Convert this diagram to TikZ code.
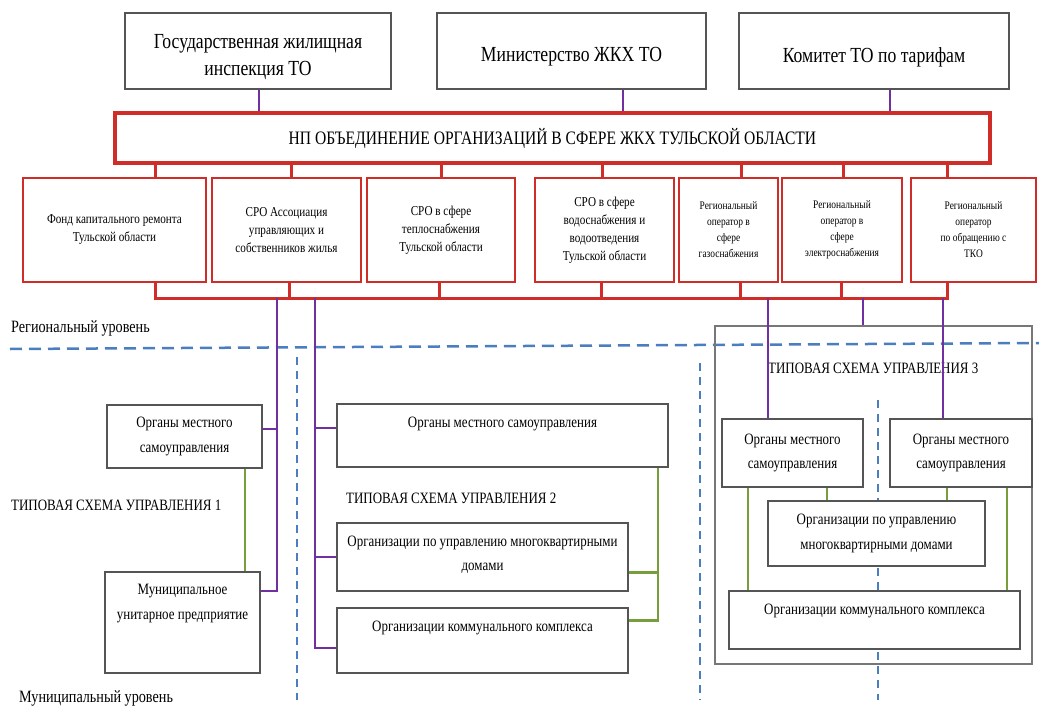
\documentclass[tikz,border=0pt]{standalone}
\usepackage{fontspec}
\setmainfont{Liberation Serif}[FakeStretch=0.82]

\definecolor{boxred}{RGB}{208,44,40}
\definecolor{linkpurple}{RGB}{112,48,160}
\definecolor{linkgreen}{RGB}{119,158,58}
\definecolor{dashblue}{RGB}{74,126,190}
\definecolor{boxgray}{RGB}{85,85,85}

\begin{document}
\begin{tikzpicture}[x=1pt,y=-1pt]
		\tikzstyle{govbox}=[draw=boxgray,line width=1.3pt,fill=white,inner sep=0pt,minimum height=76pt]
		\tikzstyle{govtxt}=[align=center,inner sep=0pt,yshift=-6pt,font=\fontsize{21.5}{27}\selectfont]
		\tikzstyle{govtext}=[label={[govtxt]center:{#1}}]
		\tikzstyle{npbox}=[draw=boxred,line width=4pt,fill=white,inner sep=0pt,font=\fontsize{19}{22}\selectfont]
		\tikzstyle{rbox}=[draw=boxred,line width=2.6pt,fill=white,align=center,inner sep=0pt,minimum height=104pt,font=\fontsize{13.6}{18}\selectfont]
		\tikzstyle{rsmall}=[font=\fontsize{11.5}{16}\selectfont]
		\tikzstyle{lbox}=[draw=boxgray,line width=1.3pt,fill=white,align=center,inner sep=0pt,font=\fontsize{15.8}{24.5}\selectfont]
		\tikzstyle{toptxt}=[anchor=north,align=center,inner sep=0pt,yshift=-13pt,font=\fontsize{15.8}{24.5}\selectfont]
		\tikzstyle{toptext}=[label={[toptxt]north:{#1}}]
		\tikzstyle{lvl}=[anchor=west,inner sep=0pt,font=\fontsize{17.3}{20}\selectfont]
		\tikzstyle{schema}=[anchor=west,inner sep=0pt,font=\fontsize{15.8}{19}\selectfont]
		\tikzstyle{rlink}=[draw=boxred,line width=3pt]
		\tikzstyle{plink}=[draw=linkpurple,line width=2pt]
		\tikzstyle{glink}=[draw=linkgreen,line width=2.5pt]
		\tikzstyle{hdash}=[draw=dashblue,line width=2.5pt,dash pattern=on 12pt off 7pt]
		\tikzstyle{vdash}=[draw=dashblue,line width=1.8pt,dash pattern=on 8pt off 6pt]

		\useasboundingbox (0,0) rectangle (1039,709);

		\draw[hdash] (10,349) -- (1039,343);
		\draw[vdash] (297,357) -- (297,700);
		\draw[vdash] (700,363) -- (700,700);
		\draw[vdash] (878,400) -- (878,700);

		\node[draw=boxgray!80,line width=1.2pt,minimum width=317pt,minimum height=338pt] (sch3) at (873.5,495) {};

		\node[lvl] (reg) at (11,328) {Региональный уровень};
		\node[lvl] (mun) at (19,698) {Муниципальный уровень};
		\node[schema] (ts1) at (11,505) {ТИПОВАЯ СХЕМА УПРАВЛЕНИЯ 1};
		\node[schema] (ts2) at (346,498) {ТИПОВАЯ СХЕМА УПРАВЛЕНИЯ 2};
		\node[schema] (ts3) at (768,368) {ТИПОВАЯ СХЕМА УПРАВЛЕНИЯ 3};

		\node[govbox,minimum width=266pt,govtext={Государственная жилищная\\инспекция ТО}] (gji) at (258,51) {};
		\node[govbox,minimum width=269pt,govtext={Министерство ЖКХ ТО}] (min) at (571.5,51) {};
		\node[govbox,minimum width=270pt,govtext={Комитет ТО по тарифам}] (kom) at (874,51) {};

		\node[npbox,minimum width=875pt,minimum height=50pt] (np) at (552.5,138) {НП ОБЪЕДИНЕНИЕ ОРГАНИЗАЦИЙ В СФЕРЕ ЖКХ ТУЛЬСКОЙ ОБЛАСТИ};

		\node[rbox,minimum width=183pt] (fond) at (114.5,230) {Фонд капитального ремонта\\Тульской области};
		\node[rbox,minimum width=149pt] (assoc) at (286.5,230) {СРО Ассоциация\\управляющих и\\собственников жилья};
		\node[rbox,minimum width=148pt] (teplo) at (441,230) {СРО в сфере\\теплоснабжения\\Тульской области};
		\node[rbox,minimum width=139pt] (voda) at (604.5,230) {СРО в сфере\\водоснабжения и\\водоотведения\\Тульской области};
		\node[rbox,rsmall,minimum width=99pt] (gaz) at (728.5,230) {Региональный\\оператор в\\сфере\\газоснабжения};
		\node[rbox,rsmall,minimum width=120pt] (elek) at (842,230) {Региональный\\оператор в\\сфере\\электроснабжения};
		\node[rbox,rsmall,minimum width=125pt] (tko) at (973.5,230) {Региональный\\оператор\\по обращению с\\ТКО};

		\coordinate (bus) at (550,298);

		\node[lbox,minimum width=155pt,minimum height=63pt] (oms1) at (184.5,436.5) {Органы местного\\самоуправления};
		\node[lbox,minimum width=155pt,minimum height=101pt,toptext={Муниципальное\\унитарное предприятие}] (mup) at (182.5,622.5) {};

		\node[lbox,minimum width=331pt,minimum height=63pt,toptext={Органы местного самоуправления}] (oms2) at (502.5,435.5) {};
		\node[lbox,minimum width=291pt,minimum height=68pt,toptext={Организации по управлению многоквартирными\\домами}] (oumd2) at (482.5,557) {};
		\node[lbox,minimum width=291pt,minimum height=65pt,toptext={Организации коммунального комплекса}] (okk2) at (482.5,640.5) {};

		\node[lbox,minimum width=141pt,minimum height=68pt] (oms3a) at (792.5,453) {Органы местного\\самоуправления};
		\node[lbox,minimum width=142pt,minimum height=68pt] (oms3b) at (961,453) {Органы местного\\самоуправления};
		\node[lbox,minimum width=217pt,minimum height=65pt] (oumd3) at (876.5,533.5) {Организации по управлению\\многоквартирными домами};
		\node[lbox,minimum width=291pt,minimum height=58pt,toptext={Организации коммунального комплекса}] (okk3) at (874.5,620) {};

		\draw[plink] (259,0 |- gji.south) -- (259,0 |- np.north);
		\draw[plink] (623,0 |- min.south) -- (623,0 |- np.north);
		\draw[plink] (890,0 |- kom.south) -- (890,0 |- np.north);

		\draw[rlink] (155,0 |- np.south) -- (155,0 |- fond.north);
		\draw[rlink] (291,0 |- np.south) -- (291,0 |- assoc.north);
		\draw[rlink] (441,0 |- np.south) -- (441,0 |- teplo.north);
		\draw[rlink] (602,0 |- np.south) -- (602,0 |- voda.north);
		\draw[rlink] (741,0 |- np.south) -- (741,0 |- gaz.north);
		\draw[rlink] (843,0 |- np.south) -- (843,0 |- elek.north);
		\draw[rlink] (947,0 |- np.south) -- (947,0 |- tko.north);

		\draw[rlink] (155,0 |- fond.south) |- (bus) -| (947,0 |- tko.south);
		\draw[rlink] (289,0 |- assoc.south) -- (289,0 |- bus);
		\draw[rlink] (439,0 |- teplo.south) -- (439,0 |- bus);
		\draw[rlink] (601,0 |- voda.south) -- (601,0 |- bus);
		\draw[rlink] (740,0 |- gaz.south) -- (740,0 |- bus);
		\draw[rlink] (841,0 |- elek.south) -- (841,0 |- bus);

		\draw[plink] (277,0 |- bus) |- ([yshift=-20pt]mup.north east);
		\draw[plink] ([yshift=8pt]oms1.east) -- ++(15,0);
		\draw[plink] (315,0 |- bus) |- ([yshift=-7.5pt]okk2.west);
		\draw[plink] (oumd2.west) -- ++(-22,0);
		\draw[plink] ([yshift=7.5pt]oms2.west) -- ++(-22,0);
		\draw[plink] (768,0 |- bus) -- (768,0 |- oms3a.north);
		\draw[plink] (863,0 |- bus) -- (863,0 |- sch3.north);
		\draw[plink] (943,0 |- bus) -- (943,0 |- oms3b.north);

		\draw[glink,line width=1.6pt] (245,0 |- oms1.south) -- (245,0 |- mup.north);
		\draw[glink] (658,0 |- oms2.south) |- ([yshift=-13pt]okk2.north east);
		\draw[glink] ([yshift=19pt]oumd2.south east) -- ++(30,0);
		\draw[glink] (748,0 |- oms3a.south) -- (748,0 |- okk3.north);
		\draw[glink] (827,0 |- oms3a.south) -- (827,0 |- oumd3.north);
		\draw[glink] (947,0 |- oms3b.south) -- (947,0 |- oumd3.north);
		\draw[glink] (1007,0 |- oms3b.south) -- (1007,0 |- okk3.north);
\end{tikzpicture}
\end{document}
